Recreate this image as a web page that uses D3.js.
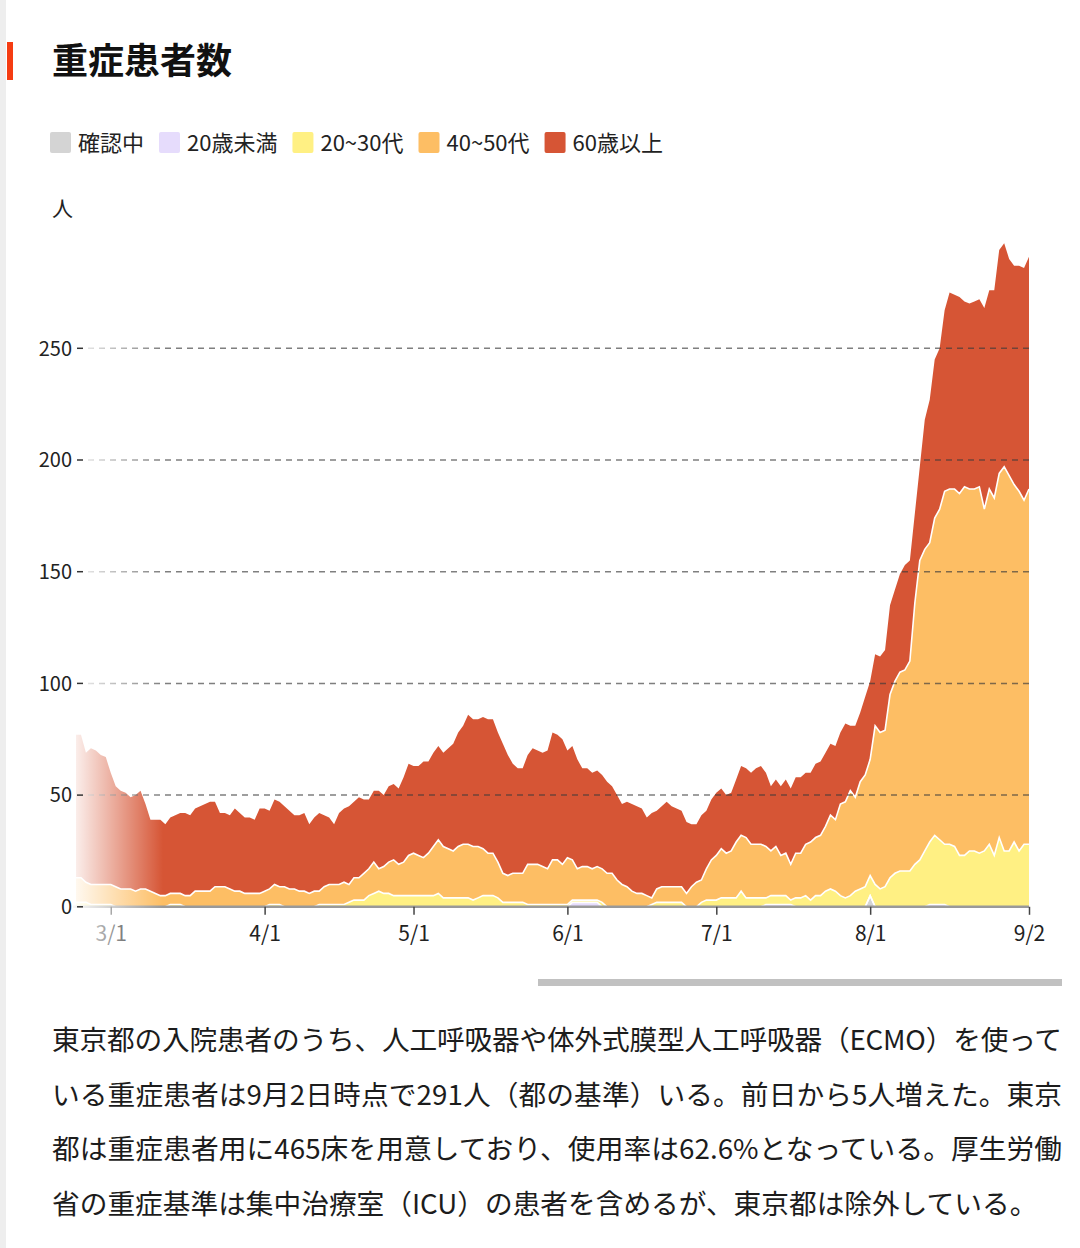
<!DOCTYPE html>
<html lang="ja">
<head>
<meta charset="utf-8">
<script src="https://cdn.jsdelivr.net/npm/d3@7"></script>
<style>
  body { margin: 0; background: #fff; }
  svg text { font-family: "Noto Sans CJK JP", "Noto Sans", sans-serif; }
</style>
</head>
<body>
<svg id="chart" width="1080" height="1248"></svg>
<script>
// daily severe cases in Tokyo, 2021-02-22 .. 2021-09-02
const startDate = new Date(2021, 1, 22);

const seriesKeys = ["unknown", "under20", "age2030", "age4050", "age60"];
const seriesNames = ["確認中", "20歳未満", "20~30代", "40~50代", "60歳以上"];
const seriesColors = ["#d4d4d4", "#e6dcfc", "#fff083", "#fdbe64", "#d65535"];

const unknown = [
  0,0,0,0,0,0,0,0,0,0, 0,0,0,0,0,0,0,0,0,0, 0,0,0,0,0,0,0,0,0,0,
  0,0,0,0,0,0,0,0,0,0, 0,0,0,0,0,0,0,0,0,0, 0,0,0,0,0,0,0,0,0,0,
  0,0,0,0,0,0,0,0,0,0, 0,0,0,0,0,0,0,0,0,0, 0,0,0,0,0,0,0,0,0,0,
  0,0,0,0,0,0,0,0,0,0, 0,0,0,0,0,0,0,0,0,0, 0,0,0,0,0,0,0,0,0,0,
  0,0,0,0,0,0,0,0,0,0, 0,0,0,0,0,0,0,0,0,0, 0,0,0,0,0,0,0,0,0,0,
  0,0,0,0,0,0,0,0,0,0, 5,0,0,0,0,0,0,0,0,0, 0,0,0,0,0,0,0,0,0,0,
  0,0,0,0,0,0,0,0,0,0, 0,0,0
];

const under20 = [
  0,0,0,0,0,0,0,0,0,0, 0,0,0,0,0,0,0,0,0,0, 0,0,0,0,0,0,0,0,0,0,
  0,0,0,0,0,0,0,0,0,0, 0,0,0,0,0,0,0,0,0,0, 0,0,0,0,0,0,0,0,0,0,
  0,0,0,0,0,0,0,0,0,0, 0,0,0,0,0,0,0,0,0,0, 0,0,0,0,0,0,0,0,0,0,
  0,0,0,0,0,0,0,0,0,0, 2,2,2,2,2,2,0,0,0,0, 0,0,0,0,0,0,0,0,0,0,
  0,0,0,0,0,0,0,0,0,0, 0,0,0,0,0,0,0,0,0,1, 1,1,1,1,1,0,0,0,0,0,
  0,0,0,0,0,0,0,0,0,0, 0,0,0,0,0,0,0,0,0,0, 0,0,1,1,1,1,0,0,0,0,
  0,0,0,0,0,0,0,0,0,0, 0,0,0
];

const age2030 = [
  2,2,2,1,1,1,1,1,0,0, 0,0,0,0,0,0,0,0,0,1, 1,1,0,0,0,0,0,0,0,0,
  0,0,0,0,0,0,0,0,0,1, 1,1,0,0,0,0,0,0,0,1, 1,1,1,1,1,2,3,3,3,5,
  6,7,6,6,5,5,5,5,5,5, 5,5,5,6,4,4,4,4,4,4, 3,4,5,5,5,4,2,2,2,2,
  2,1,1,1,1,1,1,1,1,1, 1,1,1,1,1,1,2,0,0,0, 0,0,0,0,0,0,1,2,2,2,
  2,2,2,0,0,0,2,3,3,3, 4,4,4,4,7,4,4,4,4,3, 4,4,4,4,2,4,4,5,3,5,
  5,7,8,7,5,4,5,7,8,9, 9,10,8,9,13,15,16,16,16,19, 21,25,28,31,29,27,28,27,23,23,
  25,25,24,25,28,23,31,25,25,29, 25,28,28
];

const age4050 = [
  11,11,9,9,9,9,9,9,9,8, 8,8,7,8,8,7,6,5,5,5, 5,5,5,5,7,7,7,7,9,9,
  9,8,7,7,6,6,6,6,7,7, 9,8,9,8,8,7,7,6,7,6, 8,9,9,9,10,8,10,10,12,12,
  14,10,12,14,16,14,15,18,19,18, 17,19,22,24,23,22,21,23,24,24, 24,23,21,19,19,16,13,12,13,13,
  13,18,18,18,17,16,20,20,18,21, 18,14,15,15,14,15,15,15,15,12, 10,9,7,6,6,5,3,6,7,7,
  7,7,7,6,9,11,10,14,18,20, 22,20,21,25,25,27,24,24,24,23, 20,22,18,19,16,20,20,23,26,26,
  27,29,33,32,41,43,47,42,48,50, 52,71,70,70,82,86,89,90,94,117, 134,135,134,142,148,158,159,160,162,165,
  162,162,164,153,159,160,163,172,168,160, 161,154,159
];

const age60 = [
  64,64,58,61,60,58,57,50,45,44, 43,41,43,44,38,32,33,34,32,34, 35,36,37,36,37,38,39,40,38,33,
  33,33,37,35,34,34,33,38,37,35, 38,38,36,35,33,34,35,31,33,35, 32,30,27,32,33,35,34,36,33,31,
  32,35,32,34,34,34,38,41,39,40, 43,41,42,42,42,45,48,51,53,58, 57,57,59,60,60,58,58,54,49,47,
  47,49,52,51,51,53,57,56,56,48, 51,49,44,44,43,43,42,41,39,38, 36,38,39,39,38,35,38,35,36,38,
  36,35,34,32,28,26,29,26,27,28, 27,26,26,28,31,31,32,34,35,33, 29,30,31,33,34,34,34,32,31,33,
  33,33,32,33,32,35,29,32,31,35, 35,32,34,36,40,41,44,47,45,40, 42,58,64,71,72,81,88,87,88,83,
  83,84,84,90,89,93,100,100,97,98, 101,104,104
];

const yTicks = [0, 50, 100, 150, 200, 250];
const xTickDates = [
  new Date(2021, 2, 1), new Date(2021, 3, 1), new Date(2021, 4, 1), new Date(2021, 5, 1),
  new Date(2021, 6, 1), new Date(2021, 7, 1), new Date(2021, 8, 2)
];

const bodyLines = [
  "東京都の入院患者のうち、人工呼吸器や体外式膜型人工呼吸器（ECMO）を使って",
  "いる重症患者は9月2日時点で291人（都の基準）いる。前日から5人増えた。東京",
  "都は重症患者用に465床を用意しており、使用率は62.6%となっている。厚生労働",
  "省の重症基準は集中治療室（ICU）の患者を含めるが、東京都は除外している。"
];

const seriesValues = { unknown, under20, age2030, age4050, age60 };
const data = age60.map((v, i) => {
  const row = { date: d3.timeDay.offset(startDate, i) };
  seriesKeys.forEach(k => { row[k] = seriesValues[k][i]; });
  return row;
});

const svg = d3.select("#chart");

// page decoration
svg.append("rect").attr("x", 0).attr("y", 0).attr("width", 6).attr("height", 1248).attr("fill", "#eeeeee");
svg.append("rect").attr("x", 7).attr("y", 42).attr("width", 6).attr("height", 38).attr("fill", "#f53c12");

svg.append("text")
    .attr("x", 52).attr("y", 74)
    .attr("font-size", 36).attr("font-weight", 700).attr("fill", "#111")
    .text("重症患者数");

// legend, laid out left to right
let lx = 50;
seriesNames.forEach((name, i) => {
    svg.append("rect")
        .attr("x", lx).attr("y", 132).attr("width", 21).attr("height", 21).attr("rx", 2)
        .attr("fill", seriesColors[i]);
    const t = svg.append("text")
        .attr("x", lx + 28).attr("y", 151)
        .attr("font-size", 22).attr("fill", "#222")
        .text(name);
    lx += 28 + t.node().getComputedTextLength() + 15;
});

svg.append("text")
    .attr("x", 52).attr("y", 216)
    .attr("font-size", 21).attr("fill", "#222")
    .text("人");

// scales
const x = d3.scaleTime()
    .domain([data[0].date, data[data.length - 1].date])
    .range([76, 1029]);

const y = d3.scaleLinear()
    .domain([0, 300])
    .range([906.8, 236.6]);

const stack = d3.stack().keys(seriesKeys);
const layers = stack(data);

const area = d3.area()
    .x(d => x(d.data.date))
    .y0(d => y(d[0]))
    .y1(d => y(d[1]));

const topLine = d3.line()
    .x(d => x(d.data.date))
    .y(d => y(d[1]));

const plot = svg.append("g");

plot.selectAll("path.layer")
    .data(layers).enter()
    .append("path")
    .attr("class", "layer")
    .attr("d", area)
    .attr("fill", (d, i) => seriesColors[i]);

plot.selectAll("path.edge")
    .data(layers.slice(0, -1)).enter()
    .append("path")
    .attr("class", "edge")
    .attr("d", topLine)
    .attr("fill", "none")
    .attr("stroke", "#fff")
    .attr("stroke-width", 1.6);

// dashed grid over the areas
svg.append("g").selectAll("line")
    .data(yTicks.filter(v => v > 0)).enter()
    .append("line")
    .attr("x1", 88).attr("x2", 1029)
    .attr("y1", d => y(d)).attr("y2", d => y(d))
    .attr("stroke", "#3a3a3a").attr("stroke-opacity", 0.65)
    .attr("stroke-width", 1.5).attr("stroke-dasharray", "6,5");

// x axis
const xAxis = d3.axisBottom(x)
    .tickValues(xTickDates)
    .tickFormat(d3.timeFormat("%-m/%-d"))
    .tickSize(8)
    .tickSizeOuter(0)
    .tickPadding(11);

const xg = svg.append("g")
    .attr("transform", "translate(0," + 906.8 + ")")
    .call(xAxis);
xg.select(".domain").attr("stroke", "#999").attr("stroke-width", 2.5)
    .attr("d", "M73,0H1029");
xg.selectAll(".tick line").attr("stroke", "#444").attr("stroke-width", 1.5);
xg.selectAll(".tick text")
    .attr("font-size", 21).attr("fill", "#222")
    .attr("font-family", "Noto Sans CJK JP, Noto Sans, sans-serif");

// white fade at the scroll edge
const grad = svg.append("defs").append("linearGradient")
    .attr("id", "fade").attr("x1", "0%").attr("x2", "100%");
grad.append("stop").attr("offset", "0%").attr("stop-color", "#fff").attr("stop-opacity", 0.93);
grad.append("stop").attr("offset", "100%").attr("stop-color", "#fff").attr("stop-opacity", 0);
svg.append("rect")
    .attr("x", 73).attr("y", 230).attr("width", 90).attr("height", 725)
    .attr("fill", "url(#fade)");

// y axis (sticky, drawn above the fade)
const yg = svg.append("g");
yg.selectAll("line")
    .data(yTicks).enter()
    .append("line")
    .attr("x1", 77).attr("x2", 83)
    .attr("y1", d => y(d)).attr("y2", d => y(d))
    .attr("stroke", "#333").attr("stroke-width", 1.5);
yg.selectAll("text")
    .data(yTicks).enter()
    .append("text")
    .attr("x", 72).attr("y", d => y(d)).attr("dy", "0.36em")
    .attr("text-anchor", "end")
    .attr("font-size", 20).attr("fill", "#222")
    .text(d => d);

// scroll bar
svg.append("rect")
    .attr("x", 538).attr("y", 979).attr("width", 524).attr("height", 7)
    .attr("fill", "#c1c1c1");

// body text, justified on all but the last line
bodyLines.forEach((line, i) => {
    const t = svg.append("text")
        .attr("x", 52).attr("y", 1050 + i * 54.6)
        .attr("font-size", 27.7).attr("fill", "#1c1c1c")
        .text(line);
    if (i < bodyLines.length - 1) {
        t.attr("textLength", 1010).attr("lengthAdjust", "spacing");
    }
});
</script>
</body>
</html>
